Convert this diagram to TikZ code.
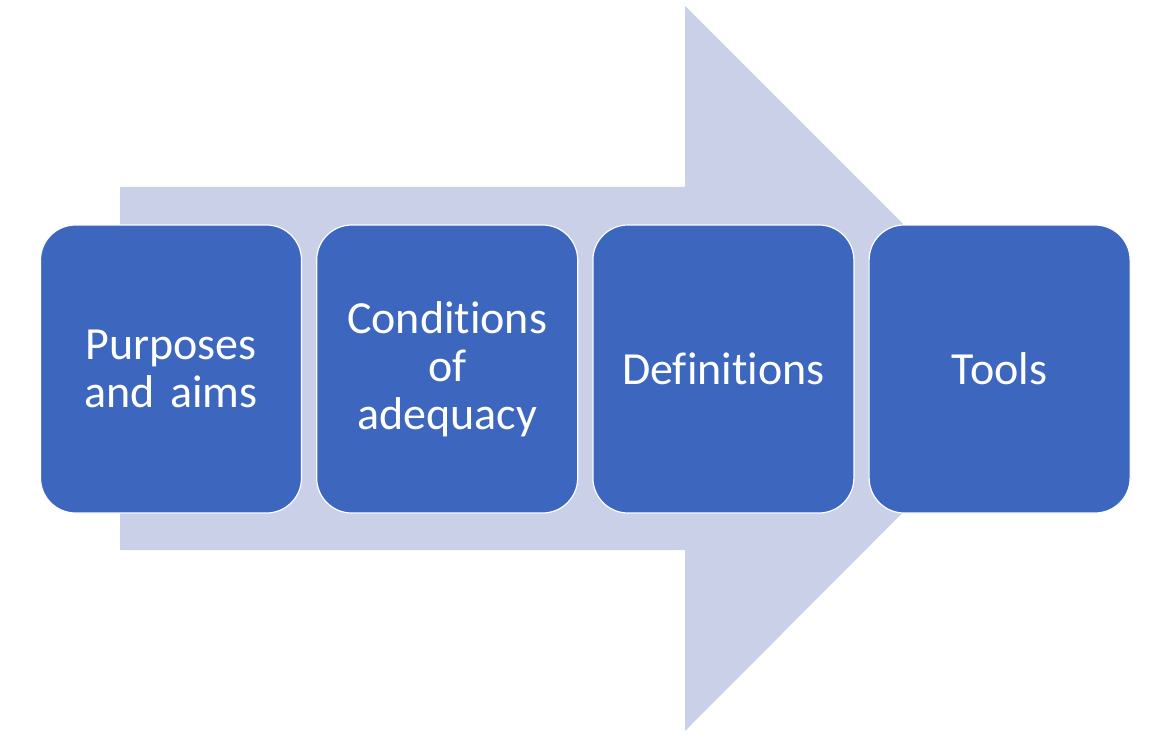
\documentclass[tikz,border=0pt]{standalone}
\usepackage{fontspec}
\setmainfont[Ligatures=NoCommon]{Carlito}
\usetikzlibrary{positioning}
\definecolor{boxblue}{RGB}{61,103,190}
\definecolor{arrowblue}{RGB}{201,208,232}
\tikzset{
  stage/.style={draw=white, line width=1.2pt, fill=boxblue, rounded corners=35pt,
    minimum width=261pt, minimum height=288pt, text width=230pt, inner sep=0pt,
    align=center, text=white, font=\fontsize{46}{48}\selectfont}
}
\begin{document}
\begin{tikzpicture}[x=1pt,y=-1pt,node distance=14pt]
\useasboundingbox (0,0) rectangle (1156,746);
% big arrow behind the stages
\fill[arrowblue] (120,187) -- (685,187) -- (685,6) -- (1047,368)
  -- (685,731) -- (685,550) -- (120,550) -- cycle;
\node[stage] (aims) at (171,369) {Purposes\\and aims};
\node[stage, right=of aims] (cond) {Conditions\\of\\adequacy};
\node[stage, right=of cond] (defs) {Definitions};
\node[stage, right=of defs] (tools) {Tools};
\end{tikzpicture}
\end{document}
